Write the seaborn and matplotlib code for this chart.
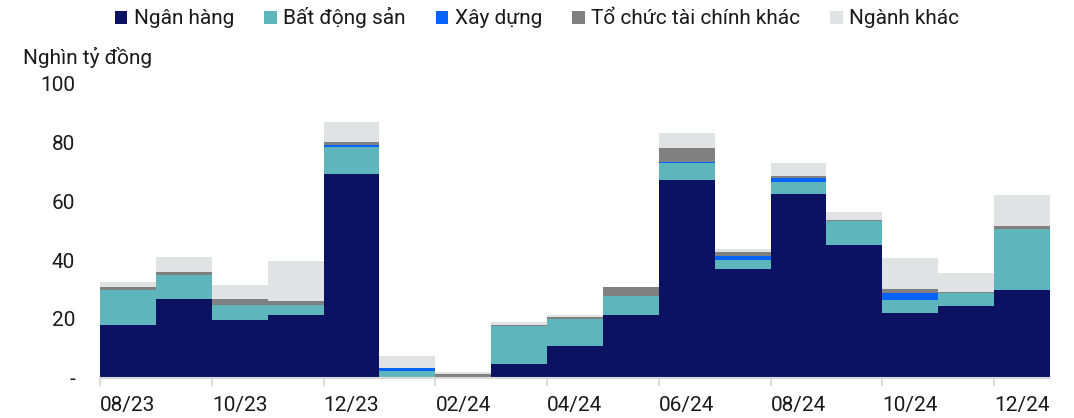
import matplotlib
matplotlib.use("Agg")
import matplotlib.pyplot as plt
from matplotlib.patches import Patch
from matplotlib.ticker import FixedLocator, FuncFormatter
import numpy as np
import pandas as pd
import seaborn as sns

# Monthly issuance by sector (nghìn tỷ đồng)
months = ["08/23", "09/23", "10/23", "11/23", "12/23", "01/24", "02/24", "03/24", "04/24",
          "05/24", "06/24", "07/24", "08/24", "09/24", "10/24", "11/24", "12/24"]
ngan_hang = [18.0, 26.7, 19.7, 21.4, 69.2, 0.0, 0.0, 4.7, 11.0, 21.5, 67.1, 36.8, 62.4, 45.2, 22.1, 24.5, 29.8]
bat_dong_san = [11.8, 8.2, 5.0, 3.4, 9.0, 2.3, 0.0, 12.9, 8.9, 6.4, 5.7, 3.3, 3.9, 8.1, 4.3, 4.2, 20.6]
xay_dung = [0.0, 0.0, 0.0, 0.0, 0.8, 1.1, 0.3, 0.0, 0.0, 0.0, 0.5, 1.3, 1.5, 0.0, 2.3, 0.0, 0.0]
to_chuc_tc = [1.0, 0.9, 2.1, 1.2, 1.0, 0.0, 1.1, 0.4, 0.7, 2.8, 4.6, 1.3, 0.7, 0.3, 1.5, 0.6, 1.1]
nganh_khac = [1.6, 5.3, 4.7, 13.8, 6.7, 4.0, 0.5, 0.9, 0.7, 0.2, 5.0, 0.9, 4.5, 2.8, 10.6, 6.4, 10.6]

sectors = ["Ngân hàng", "Bất động sản", "Xây dựng", "Tổ chức tài chính khác", "Ngành khác"]
series = [ngan_hang, bat_dong_san, xay_dung, to_chuc_tc, nganh_khac]
colors = ["#0b1262", "#5eb5bb", "#0563fa", "#808080", "#e1e2e4"]
y_ticks = [0, 20, 40, 60, 80, 100]

rows = []
for name, vals in zip(sectors, series):
    for i, v in enumerate(vals):
        rows.append({"idx": i, "sector": name, "value": v})
df = pd.DataFrame(rows)

sns.set_theme(style="white")
plt.rcParams["font.family"] = ["Roboto", "DejaVu Sans"]
TXT = "#1a1a1a"

fig = plt.figure(figsize=(10.74, 4.18), dpi=100)
ax = fig.add_axes([100 / 1074, 40 / 418, 950 / 1074, 295 / 418])

# first hue level lands on top of the stack, so reverse the order
order = sectors[::-1]
palette = dict(zip(sectors, colors))
sns.histplot(data=df, x="idx", weights="value", hue="sector", hue_order=order,
             multiple="stack", discrete=True, shrink=1.0, palette=palette,
             alpha=1.0, linewidth=0, legend=False, ax=ax)

ax.set_xlim(-0.5, len(months) - 0.5)
ax.set_ylim(0, 100)
ax.set_xlabel("")
ax.set_ylabel("")

# labels on every other month, tick marks on bar boundaries
ax.xaxis.set_major_locator(FixedLocator(list(range(0, len(months), 2))))
ax.set_xticklabels(months[::2])
ax.xaxis.set_minor_locator(FixedLocator([i - 0.5 for i in range(0, len(months), 2)]))
ax.tick_params(axis="x", which="major", length=0, pad=13, labelsize=15, labelcolor=TXT)
ax.tick_params(axis="x", which="minor", length=6, width=1.3, color="#d9d9d9", bottom=True)

ax.yaxis.set_major_locator(FixedLocator(y_ticks))
ax.yaxis.set_major_formatter(FuncFormatter(lambda v, p: "-" if v == 0 else f"{v:.0f}"))
ax.tick_params(axis="y", length=0, pad=18, labelsize=15, labelcolor=TXT)

for s in ["top", "right", "left"]:
    ax.spines[s].set_visible(False)
ax.spines["bottom"].set_color("#d9d9d9")
ax.spines["bottom"].set_linewidth(1.5)
ax.grid(False)

fig.text(23 / 1074, 1 - 58 / 418, "Nghìn tỷ đồng", fontsize=15, color=TXT, va="center", ha="left")

handles = [Patch(facecolor=c, edgecolor="none", label=n) for n, c in zip(sectors, colors)]
fig.legend(handles=handles, loc="center", bbox_to_anchor=(537 / 1074, 1 - 18 / 418), ncol=5,
           frameon=False, fontsize=15, handlelength=0.6, handleheight=0.6,
           handletextpad=0.3, columnspacing=1.45, labelcolor=TXT, borderpad=0)

fig.savefig("out.png", dpi=100)
